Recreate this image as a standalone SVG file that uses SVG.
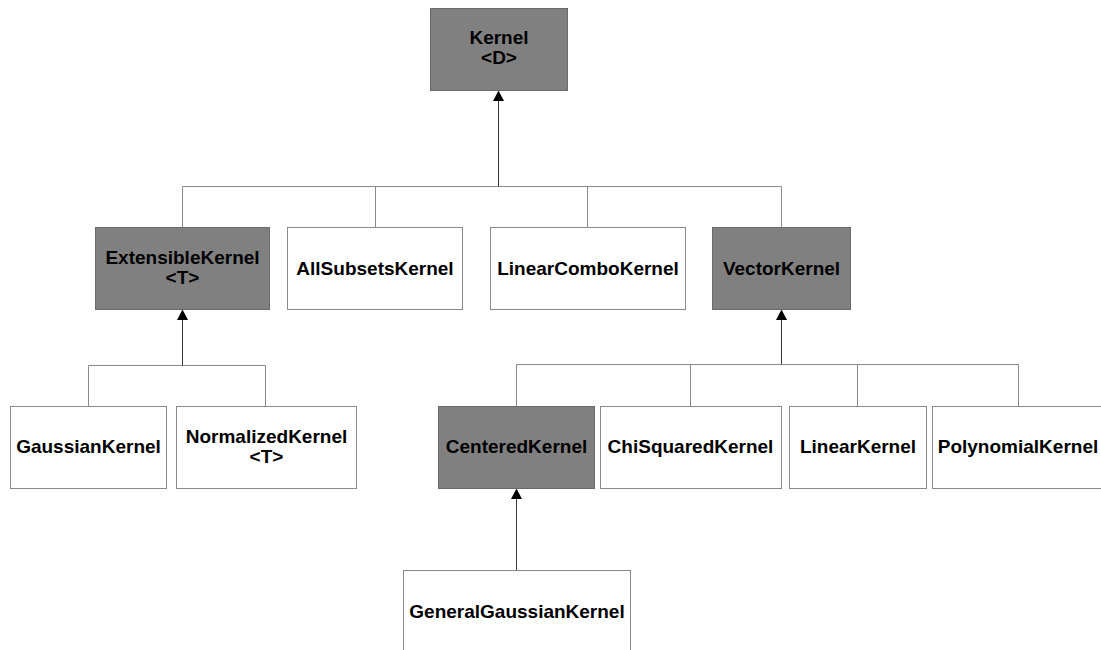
<svg xmlns="http://www.w3.org/2000/svg" width="1101" height="650" viewBox="0 0 1101 650">
  <style>
    .abstract { fill: #808080; stroke: #6a6a6a; stroke-width: 1; }
    .concrete { fill: #ffffff; stroke: #8a8a8a; stroke-width: 1; }
    .label { font-family: "Liberation Sans", Arial, sans-serif; font-weight: bold; font-size: 19px; fill: #000000; text-anchor: middle; }
    .bus { fill: none; stroke: #8a8a8a; stroke-width: 1; }
    .stem { fill: none; stroke: #3a3a3a; stroke-width: 1; }
    .head { fill: #000000; }
  </style>
  <rect width="1101" height="650" fill="#ffffff"/>

  <g id="connectors">
    <!-- Kernel children -->
    <path class="bus" d="M182.5,227 V186.5 H781.5 V227 M375.5,186.5 V227 M587.5,186.5 V227"/>
    <path class="stem" d="M498.5,186.5 V100"/>
    <path class="head" d="M498.5,90.5 L493,101 L504,101 Z"/>
    <!-- ExtensibleKernel children -->
    <path class="bus" d="M88.5,406 V365.5 H265.5 V406"/>
    <path class="stem" d="M182.5,365.5 V320"/>
    <path class="head" d="M182.5,309.5 L177,320 L188,320 Z"/>
    <!-- VectorKernel children -->
    <path class="bus" d="M516.5,406 V364.5 H1018.5 V406 M690.5,364.5 V406 M857.5,364.5 V406"/>
    <path class="stem" d="M781.5,364.5 V320"/>
    <path class="head" d="M781.5,309.5 L776,320 L787,320 Z"/>
    <!-- CenteredKernel child -->
    <path class="stem" d="M516.5,570 V499"/>
    <path class="head" d="M516.5,488.5 L511,499 L522,499 Z"/>
  </g>

  <g id="kernel">
    <rect class="abstract" x="430.5" y="8.5" width="137" height="82"/>
    <text class="label" x="499" y="44">Kernel</text>
    <text class="label" x="499" y="64">&lt;D&gt;</text>
  </g>

  <g id="extensible-kernel">
    <rect class="abstract" x="95.5" y="227.5" width="174" height="82"/>
    <text class="label" x="182.5" y="264">ExtensibleKernel</text>
    <text class="label" x="182.5" y="284">&lt;T&gt;</text>
  </g>

  <g id="all-subsets-kernel">
    <rect class="concrete" x="287.5" y="227.5" width="175" height="82"/>
    <text class="label" x="375" y="274.5">AllSubsetsKernel</text>
  </g>

  <g id="linear-combo-kernel">
    <rect class="concrete" x="490.5" y="227.5" width="195" height="82"/>
    <text class="label" x="588" y="274.5">LinearComboKernel</text>
  </g>

  <g id="vector-kernel">
    <rect class="abstract" x="712.5" y="227.5" width="138" height="82"/>
    <text class="label" x="781.5" y="274.5">VectorKernel</text>
  </g>

  <g id="gaussian-kernel">
    <rect class="concrete" x="10.5" y="406.5" width="156" height="82"/>
    <text class="label" x="88.5" y="453">GaussianKernel</text>
  </g>

  <g id="normalized-kernel">
    <rect class="concrete" x="176.5" y="406.5" width="180" height="82"/>
    <text class="label" x="266.5" y="443">NormalizedKernel</text>
    <text class="label" x="266.5" y="463">&lt;T&gt;</text>
  </g>

  <g id="centered-kernel">
    <rect class="abstract" x="438.5" y="406.5" width="156" height="82"/>
    <text class="label" x="516.5" y="453">CenteredKernel</text>
  </g>

  <g id="chi-squared-kernel">
    <rect class="concrete" x="600.5" y="406.5" width="181" height="82"/>
    <text class="label" x="690.5" y="453">ChiSquaredKernel</text>
  </g>

  <g id="linear-kernel">
    <rect class="concrete" x="789.5" y="406.5" width="137" height="82"/>
    <text class="label" x="858" y="453">LinearKernel</text>
  </g>

  <g id="polynomial-kernel">
    <rect class="concrete" x="932.5" y="406.5" width="180" height="82"/>
    <text class="label" x="1018" y="453">PolynomialKernel</text>
  </g>

  <g id="general-gaussian-kernel">
    <rect class="concrete" x="403.5" y="570.5" width="227" height="90"/>
    <text class="label" x="517" y="617.5">GeneralGaussianKernel</text>
  </g>
</svg>
